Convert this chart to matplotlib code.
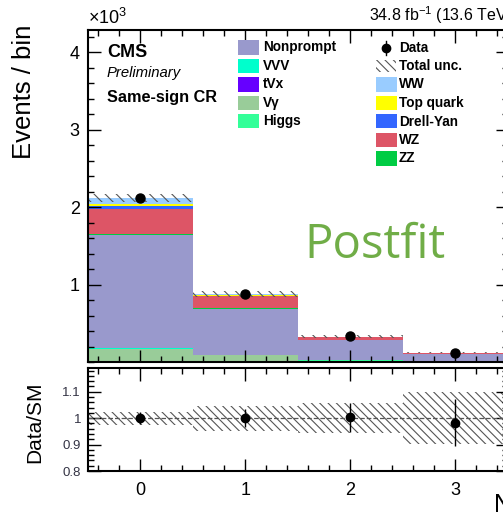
import matplotlib
matplotlib.use('Agg')
import matplotlib.pyplot as plt
import numpy as np
from matplotlib.patches import Rectangle
from matplotlib.lines import Line2D
from matplotlib.ticker import MultipleLocator, FixedLocator, NullFormatter

plt.rcParams['font.family'] = ['Liberation Sans', 'DejaVu Sans']
plt.rcParams['mathtext.fontset'] = 'custom'
plt.rcParams['mathtext.rm'] = 'Liberation Sans'
plt.rcParams['mathtext.it'] = 'Liberation Sans:italic'
plt.rcParams['hatch.linewidth'] = 0.8

# ---------------- data (events per bin) ----------------
bins = [0, 1, 2, 3]
vgamma    = [165, 85, 12, 5]
higgs     = [8, 5, 8, 6]
vvv       = [3, 3, 4, 3]
tvx       = [4, 2, 2, 1]
nonprompt = [1465, 595, 252, 90]
zz        = [15, 8, 4, 2]
wz        = [315, 152, 38, 12]
drellyan  = [40, 8, 3, 1]
topquark  = [28, 12, 4, 1]
ww        = [72, 10, 2, 1]
data      = [2115, 880, 330, 120]
total_unc = [53, 42, 19, 12]

# stack from bottom to top
stack = [
    ('Vγ', vgamma, '#99cc99'),
    ('Higgs', higgs, '#33ff99'),
    ('VVV', vvv, '#00ffcc'),
    ('tVx', tvx, '#6600ff'),
    ('Nonprompt', nonprompt, '#9999cc'),
    ('ZZ', zz, '#00cc44'),
    ('WZ', wz, '#dd5566'),
    ('Drell-Yan', drellyan, '#3366ff'),
    ('Top quark', topquark, '#ffff00'),
    ('WW', ww, '#99ccff'),
]

W, H = 503, 517
def fx(x):
    return x / W
def fy(y):
    return 1 - y / H

fig = plt.figure(figsize=(W / 100, H / 100), dpi=100)
ax = fig.add_axes([fx(88), fy(362), fx(507.5) - fx(88), fy(30) - fy(362)])
rax = fig.add_axes([fx(88), fy(471), fx(507.5) - fx(88), fy(368) - fy(471)])

x = np.array(bins, dtype=float)
bottom = np.zeros(len(bins))
for name, vals, col in stack:
    v = np.array(vals, dtype=float)
    ax.bar(x, v, width=1.0, bottom=bottom, color=col, edgecolor='none', linewidth=0)
    bottom += v
total = bottom

unc = np.array(total_unc, dtype=float)
ax.bar(x, 2 * unc, width=1.0, bottom=total - unc, facecolor='none',
       edgecolor='#555555', hatch='\\\\\\', linewidth=0)

d = np.array(data, dtype=float)
ax.errorbar(x, d, yerr=np.sqrt(d), fmt='o', color='black', ms=6.5, elinewidth=1, capsize=0)

ax.set_xlim(-0.5, 3.5)
ax.set_ylim(0, 4290)
ax.yaxis.set_major_locator(FixedLocator([1000, 2000, 3000, 4000]))
ax.set_yticklabels(['1', '2', '3', '4'])
ax.yaxis.set_minor_locator(MultipleLocator(200))
ax.xaxis.set_major_locator(MultipleLocator(1))
ax.xaxis.set_minor_locator(MultipleLocator(0.2))
ax.xaxis.set_major_formatter(NullFormatter())
ax.set_ylabel('Events / bin', fontsize=18.5, loc='top')
ax.yaxis.set_label_coords(-0.125, 1.015)

# ratio panel
ratio_unc = unc / total
rax.bar(x, 2 * ratio_unc, width=1.0, bottom=1 - ratio_unc, facecolor='none',
        edgecolor='#555555', hatch='\\\\\\\\', linewidth=0)
rax.axhline(1.0, color='#555555', ls='--', lw=0.9)
rax.errorbar(x, d / total, yerr=np.sqrt(d) / total, fmt='o', color='black',
             ms=6, elinewidth=1, capsize=0)
rax.set_xlim(-0.5, 3.5)
rax.set_ylim(0.8, 1.19)
rax.yaxis.set_major_locator(FixedLocator([0.8, 0.9, 1.0, 1.1]))
rax.set_yticklabels(['0.8', '0.9', '1', '1.1'], color='#333344')
rax.yaxis.set_minor_locator(MultipleLocator(0.02))
rax.xaxis.set_major_locator(MultipleLocator(1))
rax.xaxis.set_minor_locator(MultipleLocator(0.2))
rax.set_ylabel('Data/SM', fontsize=15)
rax.yaxis.set_label_coords(-0.105, 0.47)

for a in (ax, rax):
    for s in a.spines.values():
        s.set_linewidth(1.5)
    a.tick_params(which='both', direction='in', top=True, right=True, width=1.0)
    a.tick_params(which='major', length=9)
    a.tick_params(which='minor', length=4.5)
ax.tick_params(axis='y', labelsize=13, pad=6)
rax.tick_params(axis='y', labelsize=9.5, pad=5)
rax.tick_params(axis='x', labelsize=13, pad=8)

# header texts
fig.text(fx(88), fy(24), r'$\times$10$^{3}$', fontsize=13, va='baseline', ha='left')
fig.text(fx(369), fy(21), r'34.8 fb$^{-1}$ (13.6 TeV)', fontsize=11.5, va='baseline', ha='left')
fig.text(fx(107), fy(57), 'CMS', fontsize=13, fontweight='bold', va='baseline')
fig.text(fx(107), fy(77), 'Preliminary', fontsize=10.7, style='italic', va='baseline')
fig.text(fx(107), fy(102), 'Same-sign CR', fontsize=11.7, fontweight='bold', va='baseline')
fig.text(fx(493), fy(492), r'N$_{\mathrm{jets}}$', fontsize=18, va='top', ha='left')

# legend, drawn by hand in two columns
col1 = [('Nonprompt', '#9999cc'), ('VVV', '#00ffcc'), ('tVx', '#6600ff'),
        ('Vγ', '#99cc99'), ('Higgs', '#33ff99')]
col2 = [('WW', '#99ccff'), ('Top quark', '#ffff00'), ('Drell-Yan', '#3366ff'),
        ('WZ', '#dd5566'), ('ZZ', '#00cc44')]
rows = [47.5, 66, 84.5, 103, 121.5, 140, 158.5]

def swatch(x0, yc, col, hatch=None):
    if hatch:
        r = Rectangle((fx(x0), fy(yc + 6)), fx(20), 12 / H, facecolor='none',
                      edgecolor='#555555', hatch=hatch, linewidth=0,
                      transform=fig.transFigure)
    else:
        r = Rectangle((fx(x0), fy(yc + 7)), fx(21), 14 / H, facecolor=col,
                      edgecolor='none', transform=fig.transFigure)
    fig.add_artist(r)

for i, (lab, col) in enumerate(col1):
    swatch(238, rows[i], col)
    fig.text(fx(263), fy(rows[i]), lab, fontsize=9.8, fontweight='bold', va='center')

fig.add_artist(Line2D([fx(385.5)] * 2, [fy(rows[0] - 7), fy(rows[0] + 7)],
                      color='black', lw=1, transform=fig.transFigure))
fig.add_artist(Line2D([fx(385.5)], [fy(rows[0])], marker='o', ms=6, color='black',
                      transform=fig.transFigure))
fig.text(fx(399), fy(rows[0]), 'Data', fontsize=9.8, fontweight='bold', va='center')
swatch(376, rows[1], None, hatch='\\\\\\\\')
fig.text(fx(399), fy(rows[1]), 'Total unc.', fontsize=9.8, fontweight='bold', va='center')
for i, (lab, col) in enumerate(col2):
    swatch(376, rows[i + 2], col)
    fig.text(fx(399), fy(rows[i + 2]), lab, fontsize=9.8, fontweight='bold', va='center')

fig.text(fx(304), fy(258), 'Postfit', fontsize=34, color='#70ad47',
         family='Open Sans', va='baseline', ha='left')

fig.savefig('out.png', dpi=100)
